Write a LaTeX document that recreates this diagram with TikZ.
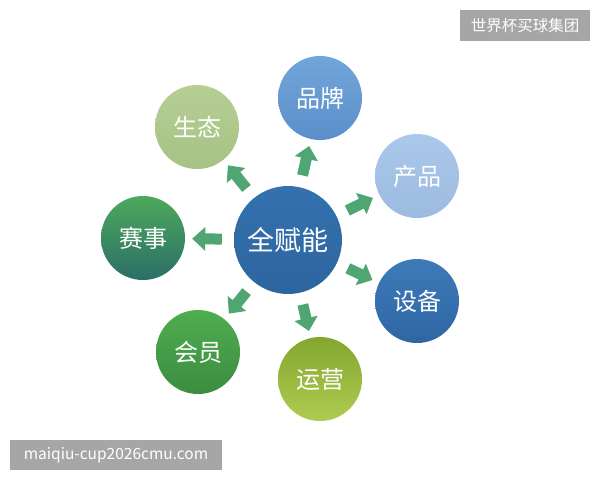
\documentclass[tikz,border=0pt]{standalone}
\usepackage{fontspec}
\setmainfont{Noto Sans CJK SC}
\usetikzlibrary{arrows.meta}

\definecolor{hubblue}{HTML}{3571AE}
\definecolor{hubdark}{HTML}{2C669F}
\definecolor{sagetop}{HTML}{B6CE94}
\definecolor{sagebot}{HTML}{A7C285}
\definecolor{brandtop}{HTML}{72A6DA}
\definecolor{brandbot}{HTML}{5A8FCB}
\definecolor{prodtop}{HTML}{AAC8EA}
\definecolor{prodbot}{HTML}{9BBBE0}
\definecolor{equiptop}{HTML}{3E7AB9}
\definecolor{equipbot}{HTML}{2E66A3}
\definecolor{matchtop}{HTML}{4DA95C}
\definecolor{matchbot}{HTML}{2B6E68}
\definecolor{membtop}{HTML}{4FAD50}
\definecolor{membbot}{HTML}{3C8C40}
\definecolor{opertop}{HTML}{84A630}
\definecolor{operbot}{HTML}{AECC50}
\definecolor{arrowgreen}{HTML}{4FA672}
\definecolor{taggray}{HTML}{A6A6A6}

\begin{document}
\begin{tikzpicture}[x=1pt,y=-1pt,
    ball/.style={circle,minimum size=84pt,inner sep=0pt,text=white,
      font=\fontsize{24}{24}\selectfont},
    push/.style={line width=11pt,color=arrowgreen,
      -{Triangle[length=13pt,width=23pt]},shorten <=12pt,shorten >=7pt},
    tag/.style={fill=taggray,text=white,inner sep=0pt,
      font=\fontsize{15.5}{15.5}\selectfont}]
    \useasboundingbox (0,0) rectangle (600,480);

    \node (Hub)[ball,minimum size=108pt,top color=hubblue,bottom color=hubdark,
      font=\fontsize{27}{27}\selectfont] at (288,240) {全赋能};
    \node (Ecology)[ball,top color=sagetop,bottom color=sagebot] at (197,127) {生态};
    \node (Brand)[ball,top color=brandtop,bottom color=brandbot] at (320,98) {品牌};
    \node (Product)[ball,top color=prodtop,bottom color=prodbot] at (417,176) {产品};
    \node (Equipment)[ball,top color=equiptop,bottom color=equipbot] at (417,301) {设备};
    \node (Match)[ball,top color=matchtop,bottom color=matchbot] at (143,238) {赛事};
    \node (Member)[ball,top color=membtop,bottom color=membbot] at (198,352) {会员};
    \node (Operation)[ball,top color=opertop,bottom color=operbot] at (320,379) {运营};

    \draw [push] (Hub) -- (Ecology);
    \draw [push] (Hub) -- (Brand);
    \draw [push] (Hub) -- (Product);
    \draw [push] (Hub) -- (Equipment);
    \draw [push] (Hub) -- (Match);
    \draw [push] (Hub) -- (Member);
    \draw [push] (Hub) -- (Operation);

    % watermarks
    \node (Group)[tag,minimum width=130pt,minimum height=31pt] at (525,25.5) {世界杯买球集团};
    \node (Site)[tag,minimum width=212pt,minimum height=30pt] at (116,455) {maiqiu-cup2026cmu.com};
\end{tikzpicture}
\end{document}
